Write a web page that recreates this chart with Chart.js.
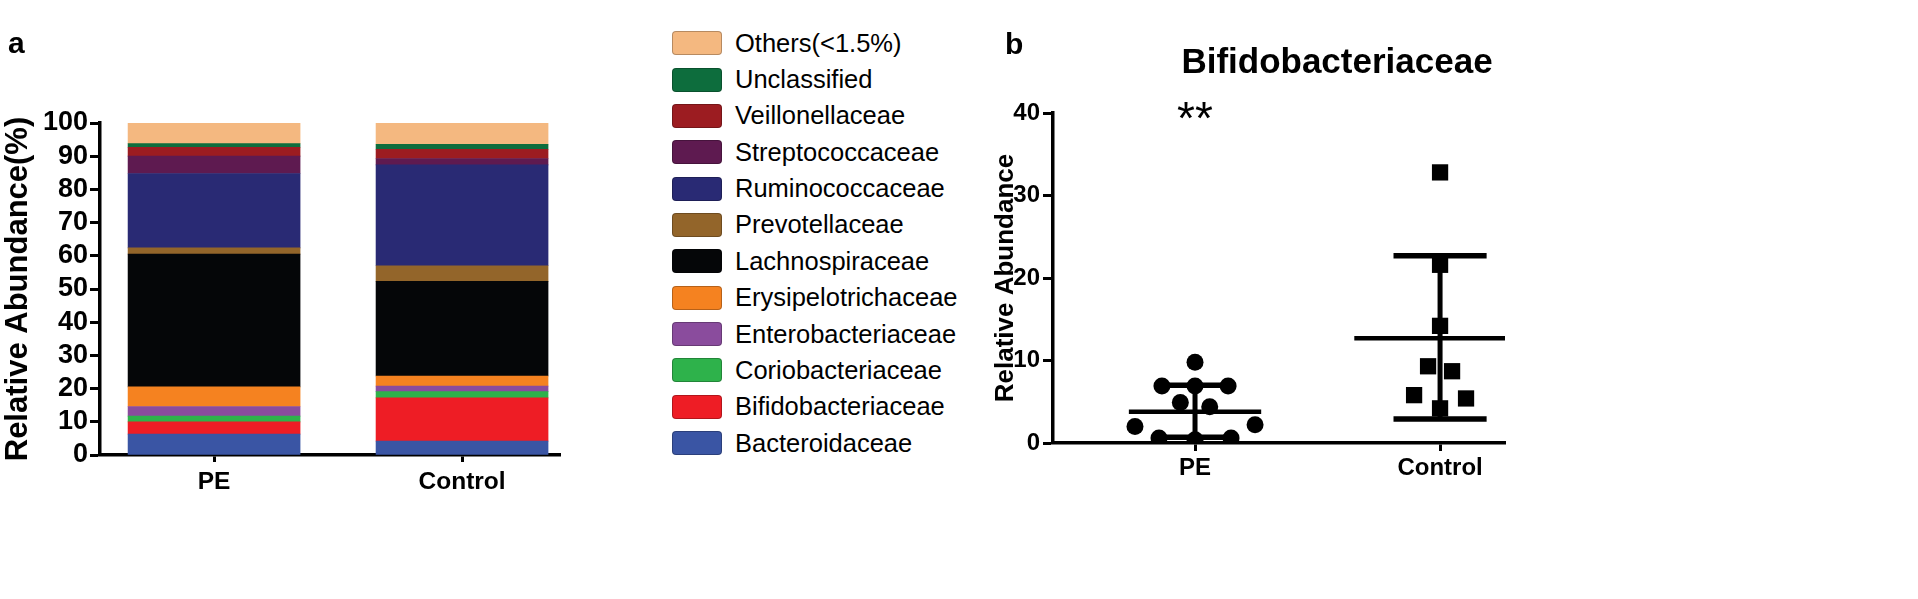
<!DOCTYPE html>
<html><head><meta charset="utf-8">
<script src="https://cdn.jsdelivr.net/npm/chart.js@4.4.1/dist/chart.umd.min.js"></script>
<style>
html,body{margin:0;padding:0;background:#fff;width:1918px;height:599px;overflow:hidden;font-family:'Liberation Sans',Arial,sans-serif;}
#wrap{position:relative;width:1918px;height:599px;}
canvas{position:absolute;top:0;}
#cA{left:0;}
#cB{left:960px;}
.panel{position:absolute;font-weight:bold;font-size:30px;line-height:30px;color:#000;}
#legend{position:absolute;left:672px;top:25px;}
.li{display:flex;align-items:center;height:36.36px;}
.sw{width:50px;height:24px;border-radius:4px;box-sizing:border-box;margin-right:13px;border:1px solid rgba(0,0,0,0.25);}
.lt{font-size:25.5px;color:#000;white-space:nowrap;}
</style></head><body>
<div id="wrap">
<canvas id="cA" width="660" height="599"></canvas>
<canvas id="cB" width="754" height="599"></canvas>
<div class="panel" style="left:8px;top:28px">a</div>
<div class="panel" style="left:1005px;top:29px">b</div>
<div id="legend"></div>
</div>
<script>
// ---------- data ----------
const categories = ['PE', 'Control'];
const categoryPos = [1, 2];

const families = ['Bacteroidaceae', 'Bifidobacteriaceae', 'Coriobacteriaceae', 'Enterobacteriaceae',
  'Erysipelotrichaceae', 'Lachnospiraceae', 'Prevotellaceae', 'Ruminococcaceae',
  'Streptococcaceae', 'Veillonellaceae', 'Unclassified', 'Others(<1.5%)'];
const familyColors = ['#3A55A4', '#EE1D25', '#2EB24B', '#8A4C9D', '#F58220', '#050608',
  '#93652A', '#292A74', '#5E1A50', '#9C1C21', '#0D6D3D', '#F4B880'];

// relative abundance (%), [PE, Control]
const bacteroidaceae      = [6.3, 4.2];
const bifidobacteriaceae  = [3.7, 13.0];
const coriobacteriaceae   = [1.7, 1.9];
const enterobacteriaceae  = [2.9, 1.65];
const erysipelotrichaceae = [5.9, 3.05];
const lachnospiraceae     = [40.0, 28.5];
const prevotellaceae      = [1.9, 4.7];
const ruminococcaceae     = [22.4, 30.4];
const streptococcaceae    = [5.2, 1.9];
const veillonellaceae     = [2.7, 2.8];
const unclassified        = [1.1, 1.5];
const others              = [6.2, 6.4];
const seriesValues = [bacteroidaceae, bifidobacteriaceae, coriobacteriaceae, enterobacteriaceae,
  erysipelotrichaceae, lachnospiraceae, prevotellaceae, ruminococcaceae, streptococcaceae,
  veillonellaceae, unclassified, others];
const barTicks = [0, 10, 20, 30, 40, 50, 60, 70, 80, 90, 100];

// panel b: Bifidobacteriaceae relative abundance per sample
const peValues      = [9.8, 6.9, 6.9, 6.9, 4.9, 4.4, 2.0, 2.2, 0.6, 0.4, 0.6];
const controlValues = [32.8, 21.6, 14.2, 9.3, 8.7, 5.8, 5.4, 4.2];
const groupMean  = [3.8, 12.7];
const groupUpper = [7.0, 22.7];
const groupLower = [0.7, 2.9];
// horizontal scatter (jitter) of the dots, in category units
const peJitter      = [0, -0.135, 0, 0.135, -0.06, 0.06, -0.245, 0.245, -0.147, 0, 0.147];
const controlJitter = [0, 0, 0, -0.049, 0.049, -0.106, 0.106, 0];
const scatterTicks = [0, 10, 20, 30, 40];
const sigLabel = '**';

// ---------- common ----------
Chart.defaults.font.family = "'Liberation Sans', Arial, sans-serif";
Chart.defaults.color = '#000';

const axisGrid = (len) => ({ drawOnChartArea: false, drawTicks: true, tickLength: len, tickWidth: 3, tickColor: '#000', color: '#000', offset: false });
const axisBorder = { display: true, color: '#000', width: 3.5 };

// ---------- panel a ----------
const chartA = new Chart(document.getElementById('cA'), {
  type: 'bar',
  data: {
    datasets: families.map((name, k) => ({
      label: name,
      data: categoryPos.map((x, i) => ({ x, y: seriesValues[k][i] })),
      backgroundColor: familyColors[k],
      borderWidth: 0,
      barThickness: 172
    }))
  },
  options: {
    responsive: false, animation: false, devicePixelRatio: 1,
    layout: { padding: { left: 0, top: 123, right: 100, bottom: 0 } },
    plugins: { legend: { display: false }, tooltip: { enabled: false } },
    scales: {
      x: {
        type: 'linear', stacked: true, min: 0.54, max: 2.395, offset: false,
        afterBuildTicks: s => { s.ticks = categoryPos.map(v => ({ value: v })); },
        afterFit: s => { s.height = 599 - 455; },
        ticks: { callback: v => categories[categoryPos.indexOf(v)], font: { weight: 'bold', size: 24.5 }, color: '#000', padding: 6, maxRotation: 0, autoSkip: false },
        grid: axisGrid(7), border: axisBorder
      },
      y: {
        stacked: true, min: 0, max: 100,
        afterBuildTicks: s => { s.ticks = barTicks.map(v => ({ value: v })); },
        afterFit: s => { s.width = 100; },
        ticks: { font: { weight: 'bold', size: 27 }, color: '#000', padding: 2, autoSkip: false },
        grid: axisGrid(10), border: axisBorder,
        title: { display: true, text: 'Relative Abundance(%)', font: { weight: 'bold', size: 31 }, color: '#000', padding: { top: 0, bottom: 0 } }
      }
    }
  }
});

// HTML legend built from the chart's datasets (top = last stacked)
(function buildLegend() {
  const box = document.getElementById('legend');
  const items = chartA.data.datasets.map(d => ({ text: d.label, color: d.backgroundColor })).reverse();
  items.forEach(it => {
    const row = document.createElement('div'); row.className = 'li';
    const sw = document.createElement('span'); sw.className = 'sw'; sw.style.background = it.color;
    const t = document.createElement('span'); t.className = 'lt'; t.textContent = it.text;
    row.appendChild(sw); row.appendChild(t); box.appendChild(row);
  });
})();

// ---------- panel b ----------
const lineSet = (pts, w) => ({ data: pts, showLine: true, pointRadius: 0, borderColor: '#000', borderWidth: w, borderCapStyle: 'butt', order: 1 });
const meanHalf = [0.27, 0.35], capHalf = [0.165, 0.19];
const summarySets = [];
categoryPos.forEach((cx, i) => {
  summarySets.push(lineSet([{ x: cx - meanHalf[i], y: groupMean[i] }, { x: cx + meanHalf[i], y: groupMean[i] }], 4.5));
  summarySets.push(lineSet([{ x: cx - capHalf[i], y: groupUpper[i] }, { x: cx + capHalf[i], y: groupUpper[i] }], 5.5));
  summarySets.push(lineSet([{ x: cx - capHalf[i], y: groupLower[i] }, { x: cx + capHalf[i], y: groupLower[i] }], 5.5));
  summarySets.push(lineSet([{ x: cx, y: groupUpper[i] }, { x: cx, y: groupLower[i] }], 5));
});

const sigPlugin = {
  id: 'sig',
  afterDatasetsDraw(chart) {
    const { ctx, scales: { x, y } } = chart;
    ctx.save();
    ctx.font = "46px 'Liberation Sans', Arial, sans-serif";
    ctx.fillStyle = '#000';
    ctx.textAlign = 'center';
    ctx.textBaseline = 'alphabetic';
    ctx.fillText(sigLabel, x.getPixelForValue(categoryPos[0]), y.getPixelForValue(37.5));
    ctx.restore();
  }
};

const chartB = new Chart(document.getElementById('cB'), {
  type: 'scatter',
  data: {
    datasets: [
      { label: 'PE', data: peValues.map((v, i) => ({ x: categoryPos[0] + peJitter[i], y: v })),
        pointStyle: 'circle', pointRadius: 8.5, backgroundColor: '#000', borderColor: '#000', borderWidth: 0, order: 2 },
      { label: 'Control', data: controlValues.map((v, i) => ({ x: categoryPos[1] + controlJitter[i], y: v })),
        pointStyle: 'rect', pointRadius: 11.5, backgroundColor: '#000', borderColor: '#000', borderWidth: 0, order: 2 },
      ...summarySets
    ]
  },
  options: {
    responsive: false, animation: false, devicePixelRatio: 1,
    layout: { padding: 0 },
    plugins: {
      legend: { display: false }, tooltip: { enabled: false },
      title: { display: true, text: 'Bifidobacteriaceae', font: { weight: 'bold', size: 35 }, color: '#000', padding: { top: 42, bottom: 29 } }
    },
    scales: {
      x: {
        type: 'linear', min: 0.4204, max: 2.265, offset: false,
        afterBuildTicks: s => { s.ticks = categoryPos.map(v => ({ value: v })); },
        afterFit: s => { s.height = 599 - 443; },
        ticks: { callback: v => categories[categoryPos.indexOf(v)], font: { weight: 'bold', size: 24 }, color: '#000', padding: 3, maxRotation: 0, autoSkip: false },
        grid: axisGrid(8), border: axisBorder
      },
      y: {
        min: 0, max: 40,
        afterBuildTicks: s => { s.ticks = scatterTicks.map(v => ({ value: v })); },
        afterFit: s => { s.width = 93; },
        ticks: { font: { weight: 'bold', size: 24 }, color: '#000', padding: 3, autoSkip: false },
        grid: axisGrid(10), border: axisBorder,
        title: { display: true, text: 'Relative Abundance', font: { weight: 'bold', size: 26 }, color: '#000', padding: { top: 30, bottom: 0 } }
      },
      yR: {
        position: 'right', display: true,
        afterFit: s => { s.width = 1714 - 1505; },
        ticks: { display: false }, grid: { display: false }, border: { display: false }
      }
    }
  },
  plugins: [sigPlugin]
});
</script>
</body></html>
